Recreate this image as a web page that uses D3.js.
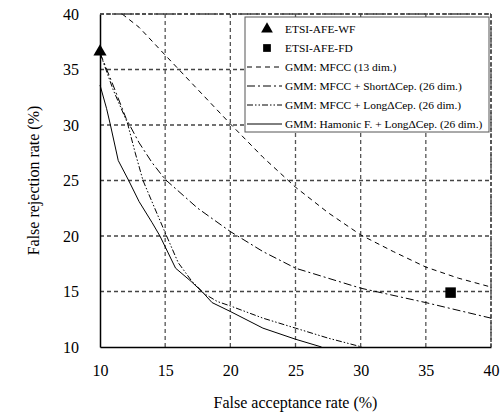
<!DOCTYPE html>
<html>
<head>
<meta charset="utf-8">
<script src="https://cdn.jsdelivr.net/npm/d3@7"></script>
<style>
  html, body { margin: 0; padding: 0; background: #fff; overflow: hidden; }
  svg { display: block; }
  svg, svg text { font-family: "Liberation Serif", "DejaVu Serif", serif; }
</style>
</head>
<body>
<div id="plot"></div>
<script>
// data (x = false acceptance %, y = false rejection %)

  const xTicks = [10, 15, 20, 25, 30, 35, 40];
  const yTicks = [10, 15, 20, 25, 30, 35, 40];

  const mfccX = [11.7, 13, 15, 17.5, 20, 22.5, 25, 27.5, 30, 32.5, 35, 37.5, 40];
  const mfccY = [40, 38.8, 36.3, 33.2, 30.1, 27.1, 24.4, 22.1, 20.1, 18.6, 17.2, 16.2, 15.4];

  const shortX = [10, 11, 12, 13, 14, 15, 17.5, 20, 22.5, 25, 30, 35, 40];
  const shortY = [36.5, 33.6, 30.6, 28.4, 26.6, 25.1, 22.5, 20.4, 18.6, 17.1, 15.3, 14.0, 12.6];

  const longX = [10, 11, 12.1, 12.7, 13.3, 14.2, 15, 16, 17, 18, 19, 20, 22.5, 25, 27.5, 30.1];
  const longY = [36.5, 33.2, 30.2, 27.5, 25, 22.5, 20.3, 17.6, 16.0, 14.8, 14.1, 13.7, 12.6, 11.7, 10.8, 10];

  const harmX = [10, 10.5, 10.8, 11.4, 12.2, 13, 14, 14.6, 15.8, 17, 17.9, 18.6, 20, 22.5, 25, 27];
  const harmY = [33.6, 31.5, 30, 26.8, 25, 23.1, 21.2, 20, 17.1, 15.9, 14.9, 14.0, 13.2, 11.7, 10.7, 10];

  const wfPoint = [10, 36.6];
  const fdPoint = [36.9, 14.9];

  const legendLabels = ["ETSI-AFE-WF", "ETSI-AFE-FD", "GMM: MFCC (13 dim.)",
      "GMM: MFCC + Short\u0394Cep. (26 dim.)", "GMM: MFCC + Long\u0394Cep. (26 dim.)",
      "GMM: Hamonic F. + Long\u0394Cep. (26 dim.)"];

  const FONT = "'Liberation Serif', 'DejaVu Serif', serif";

  const w = 500;
  const h = 414;
  const margin = {top: 14, right: 9, bottom: 67, left: 100};
  const innerWidth = w - margin.left - margin.right;
  const innerHeight = h - margin.top - margin.bottom;

  const xScale = d3.scaleLinear().domain([10, 40]).range([0, innerWidth]);
  const yScale = d3.scaleLinear().domain([10, 40]).range([innerHeight, 0]);

  const series = [
    {x: mfccX, y: mfccY, dash: "5,4"},
    {x: shortX, y: shortY, dash: "8,3,2,3"},
    {x: longX, y: longY, dash: "6,2,1.5,2,1.5,2"},
    {x: harmX, y: harmY, dash: null}
  ];

  const svg = d3.select("#plot")
    .append("svg")
      .attr("width", w)
      .attr("height", h)
      .attr("font-family", FONT);

  const g = svg.append("g")
      .attr("transform", `translate(${margin.left}, ${margin.top})`);

// grid

  g.append("g")
    .selectAll("line")
    .data(xTicks.slice(1))
    .join("line")
      .attr("x1", d => xScale(d)).attr("x2", d => xScale(d))
      .attr("y1", 0).attr("y2", innerHeight)
      .attr("stroke", "#555").attr("stroke-width", 1.3)
      .attr("stroke-dasharray", "4,3");

  g.append("g")
    .selectAll("line")
    .data(yTicks.slice(1))
    .join("line")
      .attr("x1", 0).attr("x2", innerWidth)
      .attr("y1", d => yScale(d)).attr("y2", d => yScale(d))
      .attr("stroke", "#444").attr("stroke-width", 1.3)
      .attr("stroke-dasharray", "4,3");

// axes (solid left and bottom)

  const xAxis = d3.axisBottom(xScale).tickValues(xTicks).tickSize(0).tickPadding(18);
  const yAxis = d3.axisLeft(yScale).tickValues(yTicks).tickSize(0).tickPadding(21);

  const gx = g.append("g")
      .attr("transform", `translate(0, ${innerHeight})`)
      .call(xAxis);
  const gy = g.append("g").call(yAxis);

  [gx, gy].forEach(a => {
    a.attr("font-family", FONT).attr("font-size", 16);
    a.select(".domain").attr("stroke", "#000").attr("stroke-width", 1.5);
    a.selectAll("text").attr("fill", "#000");
  });

// curves

  const line = d3.line()
      .x(d => xScale(d[0]))
      .y(d => yScale(d[1]));

  g.append("g")
    .selectAll("path")
    .data(series)
    .join("path")
      .attr("d", d => line(d.x.map((v, i) => [v, d.y[i]])))
      .attr("fill", "none")
      .attr("stroke", "#000")
      .attr("stroke-width", 1)
      .attr("stroke-dasharray", d => d.dash);

// markers

  const tri = d3.symbol().type(d3.symbolTriangle).size(75);
  const sq = d3.symbol().type(d3.symbolSquare).size(110);

  g.append("path")
      .attr("d", tri())
      .attr("transform", `translate(${xScale(wfPoint[0])}, ${yScale(wfPoint[1])})`)
      .attr("fill", "#000");

  g.append("path")
      .attr("d", sq())
      .attr("transform", `translate(${xScale(fdPoint[0])}, ${yScale(fdPoint[1])})`)
      .attr("fill", "#000");

// axis titles

  svg.append("text")
      .attr("x", margin.left + innerWidth / 2)
      .attr("y", 408)
      .attr("text-anchor", "middle")
      .attr("font-size", 16)
      .text("False acceptance rate (%)");

  svg.append("text")
      .attr("transform", `translate(39, ${margin.top + innerHeight / 2}) rotate(-90)`)
      .attr("text-anchor", "middle")
      .attr("font-size", 16)
      .text("False rejection rate (%)");

// legend

  const lg = svg.append("g").attr("transform", "translate(245, 17)");

  lg.append("rect")
      .attr("x", 0).attr("y", 0)
      .attr("width", 244).attr("height", 115)
      .attr("fill", "#fff")
      .attr("stroke", "#555")
      .attr("stroke-width", 1);

  const rowY = d3.scalePoint().domain(legendLabels).range([12, 107]);

  lg.selectAll("text.lab")
    .data(legendLabels)
    .join("text")
      .attr("class", "lab")
      .attr("x", 40)
      .attr("y", d => rowY(d) + 4)
      .attr("font-size", 11.4)
      .text(d => d);

  lg.append("path")
      .attr("d", tri.size(60)())
      .attr("transform", `translate(22, ${rowY(legendLabels[0])})`)
      .attr("fill", "#000");
  lg.append("path")
      .attr("d", sq.size(60)())
      .attr("transform", `translate(22, ${rowY(legendLabels[1])})`)
      .attr("fill", "#000");

  lg.selectAll("line.key")
    .data(series)
    .join("line")
      .attr("class", "key")
      .attr("x1", 2).attr("x2", 37)
      .attr("y1", (d, i) => rowY(legendLabels[i + 2]))
      .attr("y2", (d, i) => rowY(legendLabels[i + 2]))
      .attr("stroke", "#000")
      .attr("stroke-width", 1)
      .attr("stroke-dasharray", d => d.dash);

// top and right frame drawn dashed like the grid

  g.append("line")
      .attr("x1", 0).attr("x2", innerWidth).attr("y1", 0).attr("y2", 0)
      .attr("stroke", "#444").attr("stroke-width", 1.5).attr("stroke-dasharray", "4,2");
  g.append("line")
      .attr("x1", innerWidth).attr("x2", innerWidth).attr("y1", 0).attr("y2", innerHeight)
      .attr("stroke", "#444").attr("stroke-width", 1.5).attr("stroke-dasharray", "4,2");
</script>
</body>
</html>
